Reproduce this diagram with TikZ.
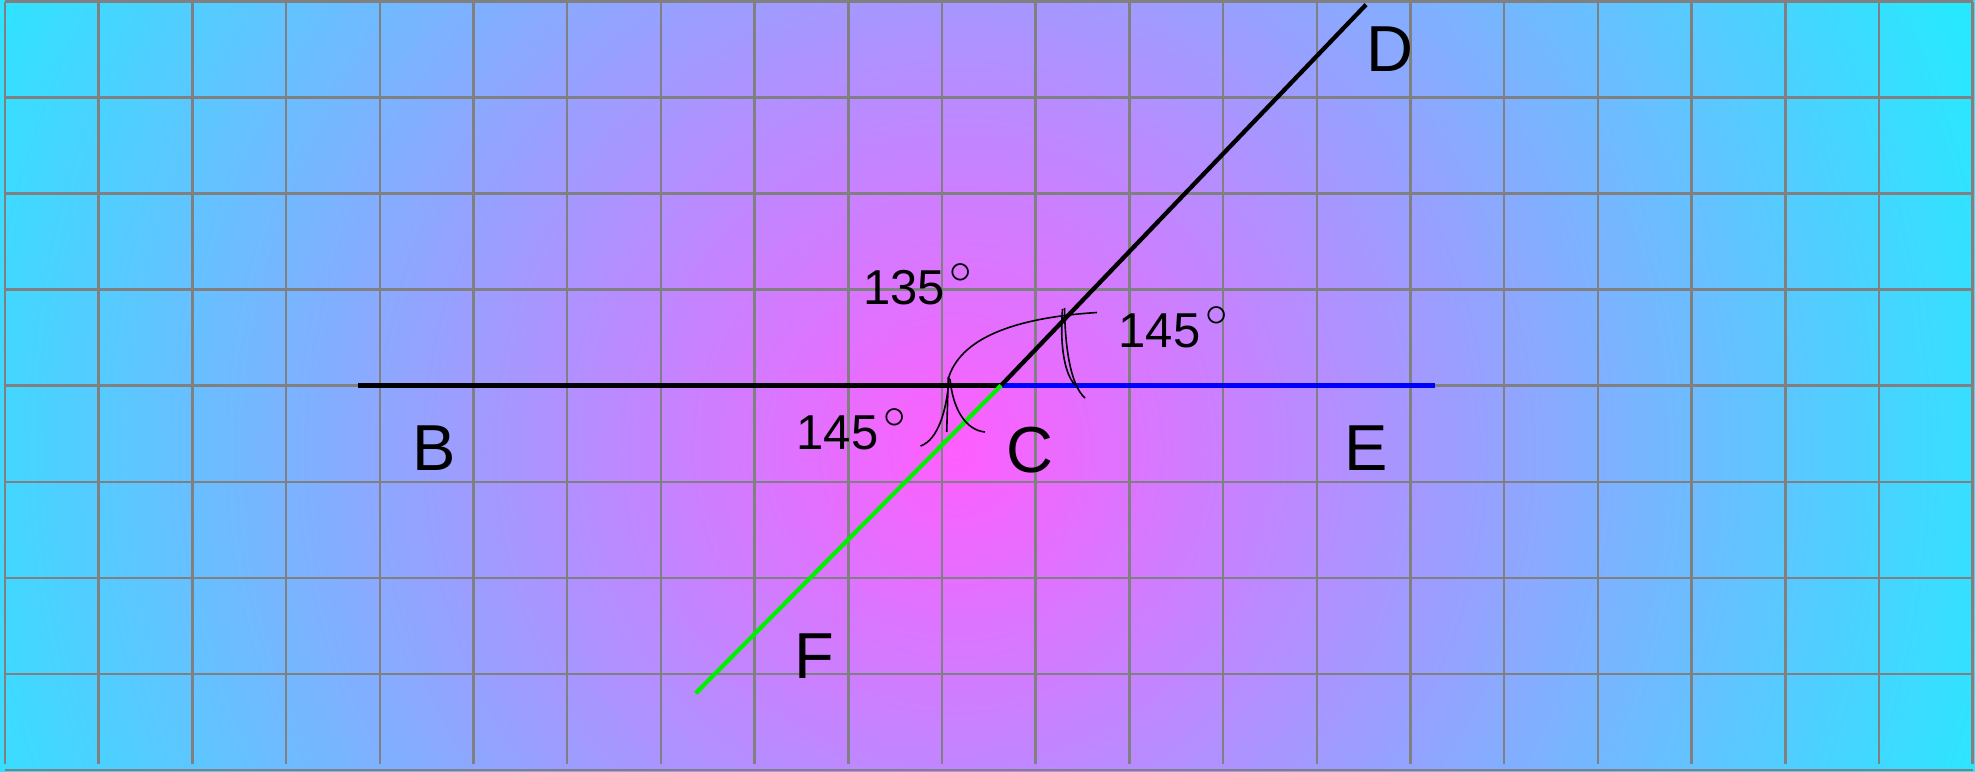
\documentclass[tikz,border=0pt]{standalone}
\usepackage{fontspec}
\setmainfont{Liberation Sans}
\definecolor{gridgray}{RGB}{128,128,128}
\definecolor{magC}{RGB}{255,94,255}
\definecolor{cyanC}{RGB}{40,232,255}
\definecolor{lineGreen}{RGB}{0,240,0}
\definecolor{lineBlue}{RGB}{0,0,255}
\newcommand{\mydeg}{\kern5pt\raisebox{21pt}{\scalebox{1.8}{$\circ$}}}
\begin{document}
\begin{tikzpicture}[x=1pt,y=-1pt,
  gridline/.style={draw=gridgray,line width=2.5pt},
  seg/.style={line width=4.3pt},
  arcline/.style={draw=black,line width=1.6pt},
  letter/.style={font=\fontsize{65}{78}\selectfont,inner sep=0pt,anchor=base west},
  deglabel/.style={font=\fontsize{49}{60}\selectfont,inner sep=0pt,anchor=base west}]
\useasboundingbox (0,0) rectangle (1975,771);
% background
\fill[cyanC] (0,0) rectangle (1975,771);
\begin{scope}
  \clip (0,0) rectangle (1975,771);
  \shade[inner color=magC, outer color=cyanC] (-135,-640) rectangle (2045,1540);
\end{scope}
% grid
\foreach \k in {0,...,21} \draw[gridline] ({5+93.7*\k},1.5) -- ({5+93.7*\k},764);
\foreach \k in {0,...,8} \draw[gridline] (5,{1.5+96.06*\k}) -- (1972.7,{1.5+96.06*\k});
% points
\coordinate (B) at (358.3,385.5);
\coordinate (C) at (1001,385.5);
\coordinate (E) at (1435,385.5);
\coordinate (D) at (1366,4.7);
\coordinate (F) at (695.7,693.3);
% segments
\draw[seg,black] (B) -- (C);
\draw[seg,lineBlue] (C) -- (E);
\draw[seg,black] (C) -- (D);
\draw[seg,lineGreen] (C) -- (F);
% construction arcs
\draw[arcline] (948.5,378) .. controls (960,340) and (1010,318) .. (1097,312.5);
\draw[arcline] (1062.5,309) .. controls (1060,340) and (1063,372) .. (1075,385);
\draw[arcline] (1064.5,308) .. controls (1065,345) and (1070,385) .. (1085,398);
\draw[arcline] (948.3,377) -- (946.7,432);
\draw[arcline] (949,378) .. controls (947,410) and (938,440) .. (920.5,446);
\draw[arcline] (950,379) .. controls (953,410) and (966,430) .. (985,432);
% labels
\node[letter] (lB) at (412,470) {B};
\node[letter] (lC) at (1006,472) {C};
\node[letter] (lD) at (1366.5,71.5) {D};
\node[letter] (lE) at (1344,470) {E};
\node[letter] (lF) at (794.7,678) {F};
\node[deglabel] (a135) at (863,304.5) {135\mydeg};
\node[deglabel] (a145r) at (1118.5,347) {145\mydeg};
\node[deglabel] (a145l) at (796.5,449.5) {145\mydeg};
\end{tikzpicture}
\end{document}
